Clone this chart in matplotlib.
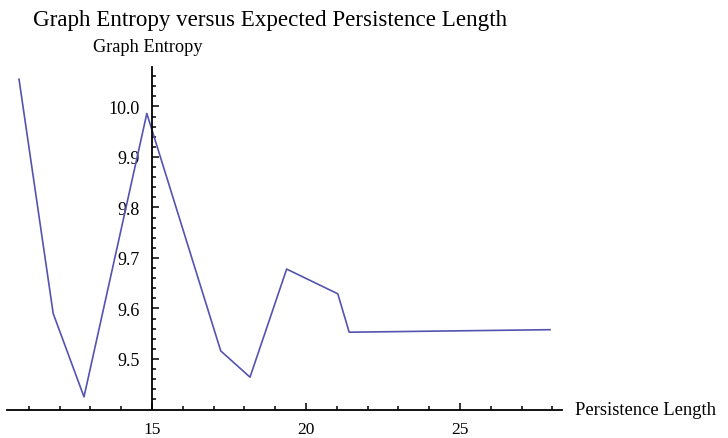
import matplotlib.pyplot as plt
from matplotlib.ticker import MultipleLocator, FixedLocator
import numpy as np

# values
persistence = [10.68, 11.79, 12.79, 14.83, 17.23, 18.18, 19.37, 21.03, 21.40, 27.92]
entropy = [10.054, 9.590, 9.425, 9.986, 9.516, 9.464, 9.678, 9.629, 9.553, 9.558]

x_major = [15, 20, 25]
y_major = [9.5, 9.6, 9.7, 9.8, 9.9, 10.0]
y_labels = ['9.5', '9.6', '9.7', '9.8', '9.9', '10.0']

plt.rcParams['font.family'] = ['Liberation Serif', 'DejaVu Serif']

W, H = 728, 439
fig = plt.figure(figsize=(W / 100, H / 100), dpi=100)

# axes box in pixels: x from 7 to 562, y from 68 to 410.5
left, right, top, bottom = 7, 562, 68, 410.5
ax = fig.add_axes([left / W, 1 - bottom / H, (right - left) / W, (bottom - top) / H])

ax.plot(persistence, entropy, color='#5454b0', lw=1.2)

ax.set_xlim(10.29, 28.31)
ax.set_ylim(9.4, 10.078)

for s in ['top', 'right']:
    ax.spines[s].set_visible(False)
ax.spines['left'].set_position(('data', 15))
ax.spines['left'].set_linewidth(1.3)
ax.spines['bottom'].set_linewidth(1.3)

ax.xaxis.set_major_locator(FixedLocator(x_major))
ax.xaxis.set_minor_locator(MultipleLocator(1))
ax.yaxis.set_major_locator(FixedLocator(y_major))
ax.set_yticklabels(y_labels)
ax.yaxis.set_minor_locator(FixedLocator(np.arange(9.42, 10.07, 0.02)))

ax.tick_params(which='both', direction='in', color='black', width=1.1)
ax.tick_params(which='major', length=5)
ax.tick_params(which='minor', length=3)
ax.tick_params(axis='x', which='major', pad=8, labelsize=12.5)
ax.tick_params(axis='y', which='major', pad=9, labelsize=13)

fig.text(33 / W, 1 - 26 / H, 'Graph Entropy versus Expected Persistence Length',
         fontsize=16.6, ha='left', va='baseline')
fig.text(93 / W, 1 - 52 / H, 'Graph Entropy', fontsize=13.2, ha='left', va='baseline')
fig.text(575 / W, 1 - 415 / H, 'Persistence Length', fontsize=13.4, ha='left', va='baseline')

fig.savefig('out.png', dpi=100, facecolor='white')
